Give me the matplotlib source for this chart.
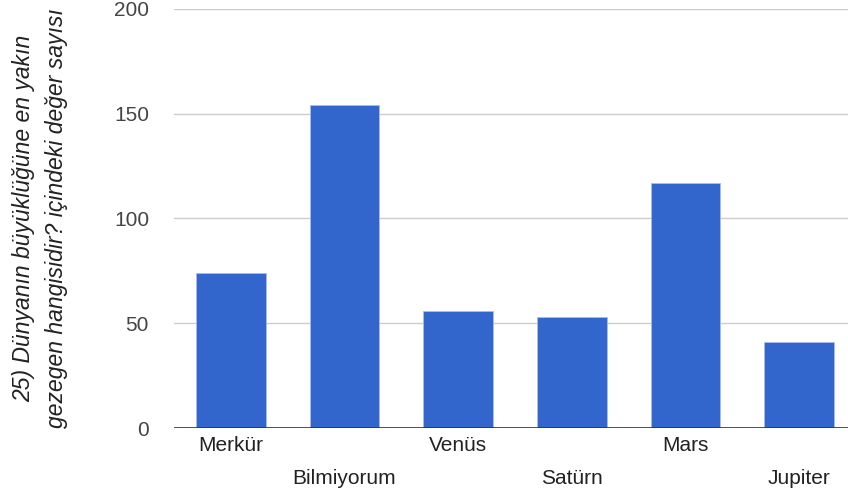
import numpy as np
import matplotlib
matplotlib.use("Agg")
from matplotlib import pyplot as plt

# answers and counts
planets = ["Merkür", "Bilmiyorum", "Venüs", "Satürn", "Mars", "Jupiter"]
counts = [74, 154, 56, 53, 117, 41]
yticks = [0, 50, 100, 150, 200]
ylabel = "25) Dünyanın büyüklüğüne en yakın\ngezegen hangisidir? içindeki değer sayısı"

plt.rcParams['font.family'] = ['Liberation Sans', 'DejaVu Sans']

fig = plt.figure(figsize=(8.48, 4.96), dpi=100)
ax = fig.add_axes([174/848, 68/496, 682/848, 419/496])

x = np.arange(len(planets))
ax.bar(x, counts, width=0.61, color='#3366cc', edgecolor='#a9bdea', linewidth=0.6, zorder=3)

ax.set_xlim(-0.5, len(planets) - 0.5)
ax.set_ylim(0, 200)
ax.set_yticks(yticks)
ax.set_yticklabels([str(v) for v in yticks], fontsize=15, color='#444444')
ax.tick_params(axis='y', length=0, pad=18)
ax.set_xticks([])
ax.grid(axis='y', color='#cccccc', linewidth=1, zorder=0)
ax.axhline(0, color='#333333', linewidth=1.2, zorder=4)
for s in ax.spines.values():
    s.set_visible(False)

# labels alternate between two rows
xt = ax.get_xaxis_transform()
for i, name in enumerate(planets):
    yy = -0.042 if i % 2 == 0 else -0.12
    ax.text(i, yy, name, transform=xt, ha='center', va='center', fontsize=15,
            color='#222222', clip_on=False)

fig.text(40/848, (496 - 218)/496, ylabel, rotation=90, ha='center', va='center',
         fontsize=16.5, style='italic', color='#222222', linespacing=1.55)

fig.savefig("out.png", dpi=100)
